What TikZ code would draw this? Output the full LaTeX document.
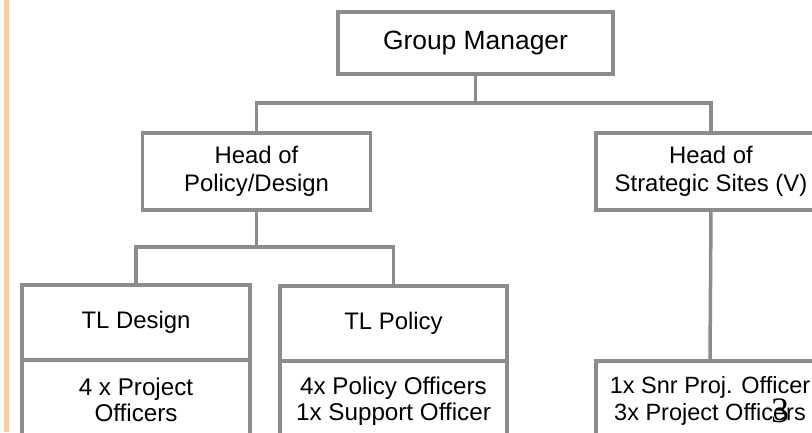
\documentclass[tikz,border=0pt]{standalone}
\usepackage{fontspec}
\setmainfont{Liberation Sans}
\newfontfamily\pagefont{Liberation Serif}
\usetikzlibrary{positioning}
\definecolor{boxgray}{RGB}{140,140,140}
\definecolor{peach}{RGB}{255,200,150}
\tikzset{
  orgbox/.style={draw=boxgray, line width=3.5bp, fill=white, inner sep=0pt,
    outer sep=0pt, align=center, minimum width=228bp, minimum height=77bp,
    font=\fontsize{24}{28.5}\selectfont},
  staffbox/.style={orgbox, minimum height=80bp, font=\fontsize{24.3}{26.5}\selectfont},
  link/.style={draw=boxgray, line width=3.5bp}
}
\begin{document}
\begin{tikzpicture}[x=1bp, y=-1bp]
      \useasboundingbox (0,0) rectangle (812,432);
      \draw[peach, line width=5bp] (6.5,0) -- (6.5,432);
      \node[orgbox, minimum width=275bp, minimum height=62bp,
        font=\fontsize{26.5}{30}\selectfont] (gm) at (475.5,43) {Group Manager};
      \node[orgbox] (hpd) at (256.5,171.5) {Head of\\Policy/Design};
      \node[orgbox, minimum width=230bp] (hss) at (711,171.5) {Head of\\Strategic Sites (V)};
      \node[orgbox, minimum height=75bp] (tld) at (136,322.5) {TL Design};
      \node[staffbox, below=0pt of tld] (tldx) {4 x Project\\Officers};
      \node[orgbox, minimum width=227bp, minimum height=75bp] (tlp) at (393.5,323.5) {TL Policy};
      \node[staffbox, minimum width=227bp, below=0pt of tlp] (tlpx) {4x Policy Officers\\1x Support Officer};
      \node[staffbox, font=\fontsize{23.6}{26.5}\selectfont] (ssx) at (710,401) {1x Snr Proj. Officer\\3x Project Officers};
      \node[font=\pagefont\fontsize{36}{36}\selectfont, inner sep=0pt] (pnum) at (780,411) {3};
      \begin{scope}[link]
        \draw (gm.south) -- ++(0,29) -| (hpd.north);
        \draw (gm.south) -- ++(0,29) -| (hss.north);
        \draw (hpd.south) -- ++(0,37) -| (tld.north);
        \draw (hpd.south) -- ++(0,37) -| (tlp.north);
        \draw (hss.south) -- (ssx.north);
      \end{scope}
    \end{tikzpicture}
\end{document}
